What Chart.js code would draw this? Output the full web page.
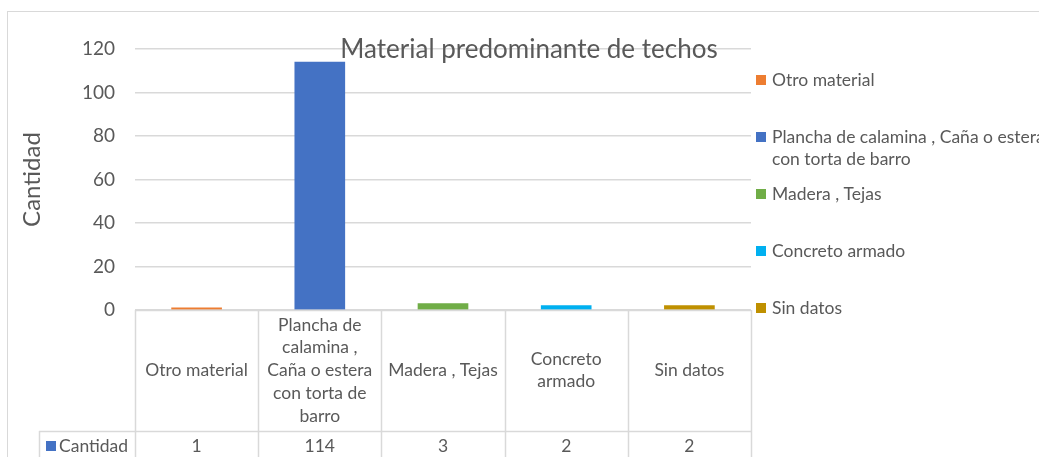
<!DOCTYPE html>
<html lang="es">
<head>
<meta charset="UTF-8">
<title>Material predominante de techos</title>
<script src="https://cdn.jsdelivr.net/npm/chart.js"></script>
<style>
  body, html { margin: 0; padding: 0; width: 1039px; height: 457px; overflow: hidden; background: #fff; }
  #wrap { position: relative; width: 1039px; height: 457px; }
</style>
</head>
<body>
<div id="wrap"><canvas id="techos"></canvas></div>
<script>
  const chartTitle = 'Material predominante de techos';
  const seriesName = 'Cantidad';
  const categories = ['Otro material', 'Plancha de calamina , Caña o estera con torta de barro', 'Madera , Tejas', 'Concreto armado', 'Sin datos'];
  const cantidad = [1, 114, 3, 2, 2];
  const barColors = ['#ED7D31', '#4472C4', '#70AD47', '#00B0F0', '#BF9000'];
  const yTicks = [0, 20, 40, 60, 80, 100, 120];

  const FONT = 'Lato, "Liberation Sans", sans-serif';
  const GRAY = '#595959';
  const LINE = '#d9d9d9';

  // split text into lines no wider than maxW
  function wrapText(ctx, text, maxW) {
    const words = text.split(' ');
    const lines = [];
    let cur = '';
    words.forEach(w => {
      const test = cur ? cur + ' ' + w : w;
      if (cur && ctx.measureText(test).width > maxW) {
        lines.push(cur);
        cur = w;
      } else {
        cur = test;
      }
    });
    if (cur) lines.push(cur);
    return lines;
  }

  // title, data table under the plot, legend on the right, outer border
  const extras = {
    id: 'extras',
    afterDraw(chart) {
      const ctx = chart.ctx;
      const area = chart.chartArea;
      const xs = chart.scales.x;
      const colW = (area.right - area.left) / categories.length;
      ctx.save();

      // outer border
      ctx.strokeStyle = LINE;
      ctx.lineWidth = 1;
      ctx.strokeRect(7.5, 11.5, 1100, 500);

      // table grid
      const rowTop = area.bottom;
      const rowMid = 431;
      const bottom = 470;
      ctx.beginPath();
      ctx.moveTo(area.left, rowTop + 0.5); ctx.lineTo(area.right, rowTop + 0.5);
      ctx.moveTo(39, rowMid + 0.5); ctx.lineTo(area.right, rowMid + 0.5);
      ctx.moveTo(39.5, rowMid); ctx.lineTo(39.5, bottom);
      for (let i = 0; i <= categories.length; i++) {
        const x = Math.round(area.left + i * colW) + 0.5;
        ctx.moveTo(x, rowTop); ctx.lineTo(x, bottom);
      }
      ctx.lineWidth = 1.5;
      ctx.stroke();

      // table texts
      ctx.fillStyle = GRAY;
      ctx.font = '17.5px ' + FONT;
      ctx.textAlign = 'center';
      ctx.textBaseline = 'middle';
      const lh = 22.7;
      categories.forEach((c, i) => {
        const cx = xs.getPixelForValue(i);
        const lines = wrapText(ctx, c, colW - 10);
        const y0 = (rowTop + rowMid) / 2 - (lines.length - 1) * lh / 2;
        lines.forEach((l, k) => ctx.fillText(l, cx, y0 + k * lh));
        ctx.fillText(String(cantidad[i]), cx, 446);
      });
      ctx.fillStyle = barColors[1];
      ctx.fillRect(46, 441, 10, 10);
      ctx.fillStyle = GRAY;
      ctx.textAlign = 'left';
      ctx.fillText(seriesName, 59, 446);

      // chart title (sits over the plot, as in the original)
      ctx.font = '26px ' + FONT;
      ctx.textAlign = 'center';
      ctx.fillText(chartTitle, 529, 50);

      // legend, one entry per category
      ctx.font = '17.5px ' + FONT;
      ctx.textAlign = 'left';
      categories.forEach((c, i) => {
        const y = 80 + i * 57;
        ctx.fillStyle = barColors[i];
        ctx.fillRect(756, y - 5, 10, 10);
        ctx.fillStyle = GRAY;
        wrapText(ctx, c, 280).forEach((l, k) => ctx.fillText(l, 772, y + k * 22.7));
      });
      ctx.restore();
    }
  };

  new Chart(document.getElementById('techos'), {
    type: 'bar',
    data: {
      labels: categories,
      datasets: [{
        label: seriesName,
        data: cantidad,
        backgroundColor: barColors,
        barThickness: 50
      }]
    },
    options: {
      responsive: true,
      maintainAspectRatio: false,
      animation: false,
      layout: { padding: { left: 8, top: 49, right: 288, bottom: 147 } },
      plugins: {
        legend: { display: false },
        title: { display: false },
        tooltip: { enabled: false }
      },
      scales: {
        x: { display: false },
        y: {
          min: 0,
          max: 120,
          afterFit: s => { s.width = 127; },
          afterBuildTicks: s => { s.ticks = yTicks.map(v => ({ value: v })); },
          grid: { color: LINE, lineWidth: 1.5, drawTicks: false },
          border: { display: false },
          ticks: { color: GRAY, padding: 20, font: { family: FONT, size: 19 } },
          title: {
            display: true,
            text: seriesName,
            color: GRAY,
            padding: { top: 10, bottom: 0 },
            font: { family: FONT, size: 24 }
          }
        }
      }
    },
    plugins: [extras]
  });
</script>
</body>
</html>
